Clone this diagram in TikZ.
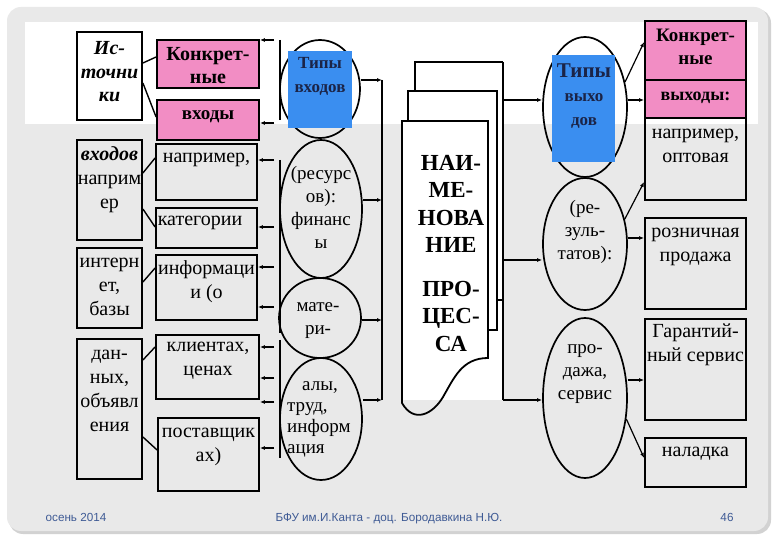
\documentclass[tikz,border=0pt]{standalone}
\usepackage{fontspec}
\setmainfont{Liberation Serif}
\newfontfamily\footfont{Liberation Sans}
\usetikzlibrary{shapes.geometric,arrows.meta}
\definecolor{slidebg}{HTML}{E9E9E9}
\definecolor{shadowc}{HTML}{D2D2D2}
\definecolor{pinkc}{HTML}{F28DC4}
\definecolor{bluec}{HTML}{3A8EF0}
\definecolor{navyc}{HTML}{1B2447}
\definecolor{footc}{HTML}{3F5B95}
\tikzset{
  box/.style={draw, line width=1.8pt, inner sep=0pt},
  pinkbox/.style={box, fill=pinkc},
  oval/.style={draw, ellipse, line width=1.7pt, inner sep=0pt},
  txt/.style={align=center, inner sep=0pt, font=\fontsize{20}{24}\selectfont},
  otxt/.style={align=center, inner sep=0pt, font=\fontsize{19}{23}\selectfont},
  doctxt/.style={align=center, inner sep=0pt, font=\fontsize{23}{27.5}\selectfont\bfseries},
  conn/.style={line width=1.4pt},
  arr/.style={line width=1.2pt, -{Latex[length=5pt,width=4pt]}},
  bus/.style={line width=1.8pt},
  foot/.style={inner sep=0pt, text=footc, font=\footfont\fontsize{11.7}{13}\selectfont},
}
\begin{document}
\begin{tikzpicture}[x=1pt,y=-1pt]
\useasboundingbox (0,0) rectangle (780,540);
% slide background
\fill[white] (0,0) rectangle (780,540);
\fill[shadowc, rounded corners=14pt] (9,9) rectangle (771,534);
\fill[slidebg, rounded corners=14pt] (7,7) rectangle (768,531);
\fill[white] (25,22) rectangle (758,124);
\fill[white] (402,124) rectangle (503,400);

% ---------- left column ----------
\node[box, minimum width=65pt, minimum height=88pt]  (L1) at (109.5,76) {};
\node[box, minimum width=65pt, minimum height=100pt] (L2) at (109.5,190) {};
\node[box, minimum width=65pt, minimum height=80pt]  (L3) at (109.5,288) {};
\node[box, minimum width=65pt, minimum height=140pt] (L4) at (109.5,409) {};
\node[txt, font=\fontsize{20}{23.5}\selectfont\bfseries\itshape] (tL1) at (109.5,72) {Ис-\\точни\\ки};
\node[txt] (tL2) at (109.5,180) {\textbf{\textit{входов}}\\наприм\\ер};
\node[txt] (tL3) at (109.5,287) {интерн\\ет,\\базы};
\node[txt] (tL4) at (109.5,391) {дан-\\ных,\\объявл\\ения};

% ---------- middle column boxes ----------
\node[pinkbox, minimum width=102pt, minimum height=48pt] (M1) at (208,64) {};
\node[pinkbox, minimum width=102pt, minimum height=40pt] (M2) at (208,120) {};
\node[box, minimum width=101pt, minimum height=56pt] (M3) at (206.5,172) {};
\node[box, minimum width=101pt, minimum height=40pt] (M4) at (206.5,228) {};
\node[box, minimum width=101pt, minimum height=65pt] (M5) at (206.5,287.5) {};
\node[box, minimum width=103pt, minimum height=64pt] (M6) at (207.5,367) {};
\node[box, minimum width=101pt, minimum height=73pt] (M7) at (208.5,454.5) {};
\node[txt, font=\fontsize{20}{23}\selectfont\bfseries] (tM1) at (208,66) {Конкрет-\\ные};
\node[txt, font=\fontsize{19}{23}\selectfont\bfseries] (tM2) at (208,117) {входы};
\node[txt] (tM3) at (206.5,160) {например,};
\node[txt] (tM4) at (200,223) {категории};
\node[txt] (tM5) at (206.5,282) {информаци\\и (о};
\node[txt] (tM6) at (208,361) {клиентах,\\ценах};
\node[txt] (tM7) at (208.5,447) {поставщик\\ах)};

% connectors left -> middle
\draw[conn] (L1.east |- 0,63)  -- (M1.west |- 0,57);
\draw[conn] (L1.east |- 0,83)  -- (M2.west |- 0,117);
\draw[conn] (L2.east |- 0,173) -- (M3.west |- 0,158);
\draw[conn] (L2.east |- 0,209) -- (M4.west |- 0,227);
\draw[conn] (L3.east |- 0,282) -- (M5.west |- 0,268);
\draw[conn] (L4.east |- 0,360) -- (M6.west |- 0,347);
\draw[conn] (L4.east |- 0,437) -- (M7.west |- 0,450);

% vertical lines at x=280
\coordinate (v1a) at (280,40);  \coordinate (v1b) at (280,120);
\coordinate (v2a) at (280,160); \coordinate (v2b) at (280,333);
\coordinate (v3a) at (280,340); \coordinate (v3b) at (280,458);
\draw[bus] (v1a) -- (v1b);
\draw[bus] (v2a) -- (v2b);
\draw[bus] (v3a) -- (v3b);

% small arrows into middle boxes
\coordinate (a1) at (274,40);  \draw[arr] (a1) -- (a1 -| M1.east);
\coordinate (a2) at (274,123); \draw[arr] (a2) -- (a2 -| M2.east);
\coordinate (a3) at (274,160); \draw[arr] (a3) -- (a3 -| M3.east);
\coordinate (a4) at (274,227); \draw[arr] (a4) -- (a4 -| M4.east);
\coordinate (a5) at (274,267); \draw[arr] (a5) -- (a5 -| M5.east);
\coordinate (a6) at (274,307); \draw[arr] (a6) -- (a6 -| M5.east);
\coordinate (a7) at (274,347); \draw[arr] (a7) -- (a7 -| M6.east);
\coordinate (a8) at (274,378); \draw[arr] (a8) -- (a8 -| M6.east);
\coordinate (a9) at (274,402); \draw[arr] (a9) -- (a9 -| M6.east);
\coordinate (a10) at (274,448); \draw[arr] (a10) -- (a10 -| M7.east);

% ---------- left ellipses ----------
\node[oval, minimum width=80pt, minimum height=98pt]  (E1) at (320,89) {};
\node[oval, minimum width=82pt, minimum height=138pt] (E2) at (321,209) {};
\node[oval, minimum width=82pt, minimum height=80pt]  (E3) at (320,318) {};
\node[oval, minimum width=82pt, minimum height=122pt] (E4) at (321,419) {};
\fill[bluec] (288,51) rectangle (352,128);
\node[txt, text=navyc, font=\fontsize{17}{24}\selectfont\bfseries] (tE1) at (320,76) {Типы\\входов};
\node[otxt] (tE2) at (321,207) {(ресурс\\ов):\\финанс\\ы};
\node[otxt] (tE3) at (318,321) {мате-\\ри-};
\node[otxt, align=left, anchor=west, font=\fontsize{19}{21}\selectfont] (tE4) at (287,419) {\hspace*{15pt}алы,\\труд,\\информ\\ация};

% bus after left ellipses
\coordinate (b1) at (382,80);
\coordinate (b2) at (382,200);
\coordinate (b3) at (382,320);
\coordinate (b4) at (382,400);
\draw[bus] (b1) -- (b4);
\draw[arr] (E1.east |- b1) -- (b1);
\draw[arr] (E2.east |- b2) -- (b2);
\draw[arr] (E3.east |- b3) -- (b3);
\draw[arr] (E4.east |- b4) -- (b4);

% ---------- process document ----------
\draw[line width=1.8pt] (415,91) -- (415,62) -- (503,62);
\draw[line width=1.8pt] (497,300) -- (503,300);
\draw[line width=1.8pt] (408,121) -- (408,91) -- (497,91) -- (497,330) -- (488,330);
\draw[line width=1.8pt] (402,121) -- (488,121) -- (488,358)
   .. controls (462,358) and (454,378) .. (443,397)
   .. controls (433,414) and (414,424) .. (402,403) -- cycle;
\node[doctxt] (tD1) at (451,204) {НАИ-\\МЕ-\\НОВА\\НИЕ};
\node[doctxt] (tD2) at (451,316) {ПРО-\\ЦЕС-\\СА};

% output bus
\coordinate (o0) at (503,62);
\coordinate (o1) at (503,100);
\coordinate (o2) at (503,260);
\coordinate (o3) at (503,400);
\draw[bus] (o0) -- (o3);

% ---------- right ellipses ----------
\node[oval, minimum width=84pt, minimum height=140pt] (R1) at (585,107) {};
\node[oval, minimum width=84pt, minimum height=132pt] (R2) at (585,244) {};
\node[oval, minimum width=84pt, minimum height=160pt] (R3) at (585,398) {};
\fill[bluec] (552,55) rectangle (615,162);
\node[txt, text=navyc, font=\fontsize{21}{24}\selectfont\bfseries] (tR1a) at (584,71) {Типы};
\node[txt, text=navyc, font=\fontsize{17}{24}\selectfont\bfseries] (tR1b) at (584,111) {выхо\\дов};
\node[otxt] (tR2) at (585,232) {(ре-\\зуль-\\татов):};
\node[otxt] (tR3) at (585,374) {про-\\дажа,\\сервис};

\draw[arr] (o1) -- (o1 -| R1.west);
\draw[arr] (o2) -- (o2 -| R2.west);
\draw[arr] (o3) -- (o3 -| R3.west);

% ---------- right boxes ----------
\node[pinkbox, minimum width=101pt, minimum height=59pt] (B1) at (695.5,50.5) {};
\node[pinkbox, minimum width=101pt, minimum height=38pt] (B2) at (695.5,99) {};
\node[box, minimum width=101pt, minimum height=82pt] (B3) at (695.5,159) {};
\node[box, minimum width=101pt, minimum height=91pt] (B4) at (695.5,263.5) {};
\node[box, minimum width=101pt, minimum height=101pt] (B5) at (695.5,369.5) {};
\node[box, minimum width=101pt, minimum height=49pt] (B6) at (695.5,462.5) {};
\node[txt, font=\fontsize{19}{23}\selectfont\bfseries] (tB1) at (695.5,47) {Конкрет-\\ные};
\node[txt, font=\fontsize{18}{23}\selectfont\bfseries] (tB2) at (695.5,98) {выходы:};
\node[txt] (tB3) at (695.5,146) {например,\\оптовая};
\node[txt] (tB4) at (695.5,247) {розничная\\продажа};
\node[txt] (tB5) at (695.5,345) {Гарантий-\\ный сервис};
\node[txt] (tB6) at (695.5,454) {наладка};

\draw[arr] (R1.32) -- (B1.west |- 0,42);
\draw[arr] (R1.east |- 0,100) -- (B2.west |- 0,100);
\draw[arr] (R2.32) -- (B3.west |- 0,182);
\draw[arr] (R2.east |- 0,238) -- (B4.west |- 0,238);
\draw[arr] (R3.east |- 0,380) -- (B5.west |- 0,380);
\draw[arr] (R3.-27) -- (B6.west |- 0,458);

% ---------- footer ----------
\node[foot] (f1) at (76,517) {осень 2014};
\node[foot] (f2) at (389,519) {БФУ им.И.Канта - доц. Бородавкина Н.Ю.};
\node[foot] (f3) at (727,517) {46};
\end{tikzpicture}
\end{document}
